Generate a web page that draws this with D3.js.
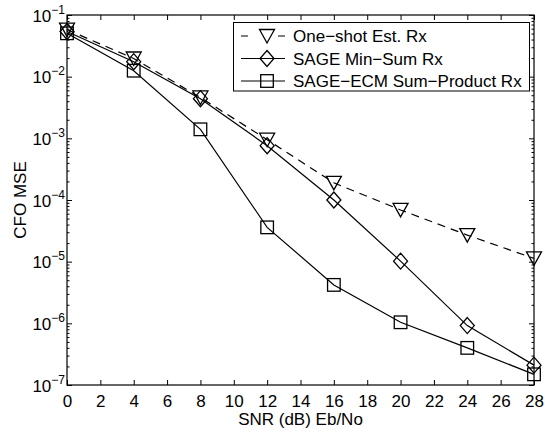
<!DOCTYPE html>
<html>
<head>
<meta charset="utf-8">
<script src="https://cdn.jsdelivr.net/npm/d3@7"></script>
<style>
  html, body { margin: 0; padding: 0; background: #fff; }
  svg { display: block; font-family: "Liberation Sans", Arial, Helvetica, sans-serif; }
</style>
</head>
<body>
<svg id="chart" width="545" height="433"></svg>
<script>
// SNR points (dB Eb/No)
const snr = [0, 4, 8, 12, 16, 20, 24, 28];

// CFO mean squared error for each receiver
const oneShot = [0.058, 0.0197, 0.0046, 0.00095, 0.00019, 0.000069, 0.000027, 0.0000113];
const sageMinSum = [0.054, 0.0175, 0.0044, 0.00076, 0.0001, 0.0000102, 0.00000092, 0.00000021];
const sageEcm = [0.0505, 0.0125, 0.0014, 0.000036, 0.0000042, 0.00000104, 0.0000004, 0.000000149];

const seriesNames = ["One\u2212shot Est. Rx", "SAGE Min\u2212Sum Rx", "SAGE\u2212ECM Sum\u2212Product Rx"];

// Axis ticks
const xTicks = [0, 2, 4, 6, 8, 10, 12, 14, 16, 18, 20, 22, 24, 26, 28];
const yExponents = [-7, -6, -5, -4, -3, -2, -1];

const svg = d3.select("#chart");
const m = { left: 67, right: 11, top: 15, bottom: 48 };
const W = 545, H = 433;
const pw = W - m.left - m.right, ph = H - m.top - m.bottom;
const FS = 17;

const x = d3.scaleLinear().domain([0, 28]).range([m.left, m.left + pw]);
const y = d3.scaleLog().domain([1e-7, 1e-1]).range([m.top + ph, m.top]);

const minorVals = [];
for (let e = -7; e < -1; e++) for (let k = 2; k <= 9; k++) minorVals.push(k * Math.pow(10, e));

const g = svg.append("g");

// x axis (bottom, with labels) and top mirror ticks
const xb = g.append("g").attr("transform", `translate(0,${m.top + ph})`)
  .call(d3.axisBottom(x).tickValues(xTicks).tickSize(-5).tickPadding(10).tickFormat(d3.format("d")));
const xt = g.append("g").attr("transform", `translate(0,${m.top})`)
  .call(d3.axisTop(x).tickValues(xTicks).tickSize(-5).tickFormat(""));

// y axis (left, with labels), right mirror ticks and minor ticks on both sides
const decades = yExponents.map(e => Math.pow(10, e));
const yl = g.append("g").attr("transform", `translate(${m.left},0)`)
  .call(d3.axisLeft(y).tickValues(decades).tickSize(-5).tickFormat(""));
const yr = g.append("g").attr("transform", `translate(${m.left + pw},0)`)
  .call(d3.axisRight(y).tickValues(decades).tickSize(-5).tickFormat(""));
const ylm = g.append("g").attr("transform", `translate(${m.left},0)`)
  .call(d3.axisLeft(y).tickValues(minorVals).tickSize(-2.5).tickFormat(""));
const yrm = g.append("g").attr("transform", `translate(${m.left + pw},0)`)
  .call(d3.axisRight(y).tickValues(minorVals).tickSize(-2.5).tickFormat(""));

[xb, xt, yl, yr, ylm, yrm].forEach(a => {
  a.select(".domain").remove();
  a.selectAll(".tick line").attr("stroke", "#000").attr("stroke-width", 1);
});
xb.selectAll(".tick text").attr("font-size", FS).attr("fill", "#000")
  .attr("font-family", "Liberation Sans, Arial, sans-serif");

// decade labels as 10 with superscript exponent
yl.selectAll(".tick").each(function (d) {
  const e = Math.round(Math.log10(d));
  const t = d3.select(this).append("text")
    .attr("x", -2).attr("y", 6)
    .attr("text-anchor", "end")
    .attr("fill", "#000")
    .attr("font-size", FS);
  t.append("tspan").text("10");
  t.append("tspan").attr("dy", -8).attr("font-size", 12).text("\u2212" + Math.abs(e));
});

// frame
g.append("rect").attr("x", m.left).attr("y", m.top).attr("width", pw).attr("height", ph)
  .attr("fill", "none").attr("stroke", "#000").attr("stroke-width", 1.2);

// axis titles
g.append("text").attr("x", m.left + pw / 2).attr("y", 425).attr("text-anchor", "middle")
  .attr("font-size", FS).attr("fill", "#000").text("SNR (dB) Eb/No");
g.append("text").attr("transform", `translate(26,${m.top + ph / 2}) rotate(-90)`)
  .attr("text-anchor", "middle").attr("font-size", FS).attr("fill", "#000").text("CFO MSE");

// marker shapes
function marker(sel, type) {
  if (type === "tri") {
    sel.append("path").attr("d", "M-7.5,-6.5 L7.5,-6.5 L0,7 Z");
  } else if (type === "dia") {
    sel.append("path").attr("d", "M0,-8 L7,0 L0,8 L-7,0 Z");
  } else {
    sel.append("rect").attr("x", -6.3).attr("y", -6.3).attr("width", 12.6).attr("height", 12.6);
  }
}

const series = [
  { name: seriesNames[0], values: oneShot, type: "tri", dash: "8,6" },
  { name: seriesNames[1], values: sageMinSum, type: "dia", dash: null },
  { name: seriesNames[2], values: sageEcm, type: "sq", dash: null }
];

const line = d3.line().x((d, i) => x(snr[i])).y(d => y(d));

const plot = g.append("g");
series.forEach(s => {
  plot.append("path").datum(s.values).attr("d", line)
    .attr("fill", "none").attr("stroke", "#000").attr("stroke-width", 1.2)
    .attr("stroke-dasharray", s.dash);
  s.values.forEach((v, i) => {
    const mk = plot.append("g").attr("transform", `translate(${x(snr[i])},${y(v)})`)
      .attr("fill", "none").attr("stroke", "#000").attr("stroke-width", 1.3);
    marker(mk, s.type);
  });
});

// legend
const lg = g.append("g");
lg.append("rect").attr("x", 233.5).attr("y", 22.5).attr("width", 296).attr("height", 68.5)
  .attr("fill", "#fff").attr("stroke", "#000").attr("stroke-width", 1);
series.forEach((s, i) => {
  const cy = 36 + i * 22.5;
  lg.append("line").attr("x1", 241).attr("x2", 285).attr("y1", cy).attr("y2", cy)
    .attr("stroke", "#000").attr("stroke-width", 1.2)
    .attr("stroke-dasharray", s.dash ? "7,30" : null);
  const mk = lg.append("g").attr("transform", `translate(267,${cy})`)
    .attr("fill", "none").attr("stroke", "#000").attr("stroke-width", 1.3);
  marker(mk, s.type);
  lg.append("text").attr("x", 293).attr("y", cy + 6).attr("font-size", FS).attr("fill", "#000").text(s.name);
});
</script>
</body>
</html>
